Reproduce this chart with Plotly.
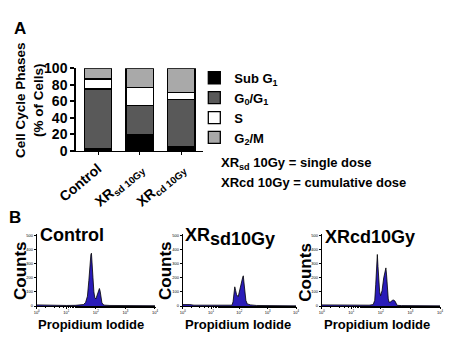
import plotly.graph_objects as go

# ---------------- Panel A data ----------------
groups = ["Control", "XR<sub>sd 10Gy</sub>", "XR<sub>cd 10Gy</sub>"]
phases = ["Sub G<sub>1</sub>", "G<sub>0</sub>/G<sub>1</sub>", "S", "G<sub>2</sub>/M"]
sub_g1 = [3, 20, 5]
g0_g1 = [72, 35, 57]
s_phase = [12, 22, 9]
g2_m = [13, 23, 29]
phase_colors = ["#000000", "#595959", "#ffffff", "#a9a9a9"]
y_ticks = [0, 20, 40, 60, 80, 100]

# ---------------- Panel B data (propidium iodide intensity, counts) ----------------
ctrl_pi = [1, 2, 5, 10, 20, 30, 38, 45, 52, 58, 63, 68, 71, 75, 80, 86, 92, 100, 110, 122,
           132, 140, 150, 160, 175, 200, 300, 1000, 10000]
ctrl_counts = [8, 6, 5, 4, 5, 6, 10, 25, 70, 180, 300, 365, 374, 320, 200, 100, 60, 50, 75, 115,
               124, 105, 60, 25, 10, 6, 4, 3, 2]

sd_pi = [1, 1.3, 1.8, 2.5, 5, 10, 20, 40, 55, 60, 64, 69, 74, 80, 91, 105, 120, 132, 138, 145,
         155, 170, 190, 250, 400, 1000, 10000]
sd_counts = [10, 12, 10, 6, 5, 4, 4, 4, 6, 30, 110, 136, 110, 80, 66, 110, 170, 205, 214, 170,
             100, 40, 15, 8, 4, 2, 1]

cd_pi = [1, 2, 5, 10, 20, 40, 55, 62, 67, 71, 76, 80, 85, 91, 98, 110, 125, 140, 148, 156,
         166, 178, 191, 215, 245, 270, 300, 330, 355, 500, 1000, 10000]
cd_counts = [8, 7, 6, 5, 5, 6, 10, 40, 150, 300, 365, 280, 170, 100, 73, 110, 200, 262, 270, 220,
             120, 50, 26, 30, 40, 42, 35, 15, 5, 3, 2, 1]

hist_titles = ["Control", "XR<sub><span style='font-size:18px'>sd10Gy</span></sub>", "XRcd10Gy"]
count_ticks = [0, 100, 200, 300, 400, 500]
pi_ticks = [1, 10, 100, 1000, 10000]
pi_ticktext = ["10<sup>0</sup>", "10<sup>1</sup>", "10<sup>2</sup>", "10<sup>3</sup>", "10<sup>4</sup>"]

FONT = "Liberation Sans, Arial, Helvetica, sans-serif"
HIST_FILL = "#2a1cb8"

fig = go.Figure()

# stacked bars
for name, vals, col in zip(phases, [sub_g1, g0_g1, s_phase, g2_m], phase_colors):
    fig.add_trace(go.Bar(
        x=groups, y=vals, name=name, marker=dict(color=col, line=dict(color="#000000", width=1.3)),
        width=0.66, xaxis="x", yaxis="y", showlegend=True,
    ))

# histograms
hist_data = [(ctrl_pi, ctrl_counts), (sd_pi, sd_counts), (cd_pi, cd_counts)]
for i, (xs, ys) in enumerate(hist_data):
    ax = str(i + 2)
    fig.add_trace(go.Scatter(
        x=xs, y=ys, mode="lines", fill="tozeroy", fillcolor=HIST_FILL,
        line=dict(color="#000000", width=0.8), xaxis="x" + ax, yaxis="y" + ax, showlegend=False,
    ))

bold = dict(family=FONT, color="#000000", weight="bold")

layout = dict(
    width=454, height=345, margin=dict(l=0, r=0, t=0, b=0, pad=0, autoexpand=False),
    paper_bgcolor="#ffffff", plot_bgcolor="#ffffff",
    barmode="stack", bargap=0.34,
    font=dict(family=FONT, color="#000000"),
    xaxis=dict(domain=[0.1674, 0.4471], range=[-0.53, 2.52], showline=True, linecolor="#000000",
               linewidth=1.3, ticks="outside", ticklen=3, tickwidth=1, tickcolor="#000000",
               tickangle=-40, tickfont=dict(size=14, **bold), showgrid=False, zeroline=False,
               automargin=False),
    yaxis=dict(domain=[0.5623, 0.802], range=[0, 100], tickvals=y_ticks, showline=True,
               linecolor="#000000", linewidth=1.5, ticks="outside", ticklen=4, tickwidth=1.5,
               tickcolor="#000000", tickfont=dict(size=14, **bold), showgrid=False, zeroline=False,
               automargin=False),
    legend=dict(x=0.428, y=0.818, xanchor="left", yanchor="top", traceorder="normal",
                font=dict(size=13, **bold), bgcolor="rgba(0,0,0,0)", tracegroupgap=0),
)

hist_x_domains = [[0.0808, 0.3414], [0.4024, 0.652], [0.7086, 0.9692]]
for i, dom in enumerate(hist_x_domains):
    ax = str(i + 2)
    layout["xaxis" + ax] = dict(
        domain=dom, type="log", range=[0, 4], tickvals=pi_ticks, ticktext=pi_ticktext,
        showline=True, linecolor="#000000", linewidth=1, ticks="outside", ticklen=2, tickwidth=0.8,
        tickcolor="#000000", tickfont=dict(size=4, family=FONT, color="#000000"), showgrid=False,
        zeroline=False, anchor="y" + ax, automargin=False,
        minor=dict(ticks="outside", ticklen=1, tickwidth=0.5, tickcolor="#000000", showgrid=False),
    )
    layout["yaxis" + ax] = dict(
        domain=[0.113, 0.3217], range=[0, 510], tickvals=count_ticks, showline=True,
        linecolor="#000000", linewidth=1, ticks="outside", ticklen=2, tickwidth=0.8,
        tickcolor="#000000", tickfont=dict(size=4, family=FONT, color="#000000"), showgrid=False,
        zeroline=False, anchor="x" + ax, automargin=False,
    )

annotations = [
    dict(text="A", x=0.044, y=0.9188, font=dict(size=17, **bold)),
    dict(text="B", x=0.033, y=0.371, font=dict(size=17, **bold)),
    dict(text="Cell Cycle Phases<br>(% of Cells)", x=0.064, y=0.71, textangle=-90,
         font=dict(size=13.5, **bold)),
    dict(text="XR<sub>sd</sub> 10Gy = single dose", x=0.482, y=0.5267, xanchor="left",
         font=dict(size=13, **bold)),
    dict(text="XRcd 10Gy = cumulative dose", x=0.482, y=0.4704, xanchor="left",
         font=dict(size=13, **bold)),
]
title_pos = [(0.0837, 0.3188), (0.403, 0.312), (0.711, 0.3139)]
counts_pos = [(0.0463, 0.2145), (0.3656, 0.2174), (0.674, 0.2125)]
pi_pos = [(0.2015, 0.058), (0.5242, 0.058), (0.8293, 0.058)]
for t, (tx, ty), (cx, cy), (px, py) in zip(hist_titles, title_pos, counts_pos, pi_pos):
    annotations.append(dict(text=t, x=tx, y=ty, xanchor="left", font=dict(size=18, **bold)))
    annotations.append(dict(text="Counts", x=cx, y=cy, textangle=-90, font=dict(size=17, **bold)))
    annotations.append(dict(text="Propidium Iodide", x=px, y=py, font=dict(size=13, **bold)))

for a in annotations:
    a.update(xref="paper", yref="paper", showarrow=False)
    a.setdefault("xanchor", "center")
    a.setdefault("yanchor", "middle")
layout["annotations"] = annotations

fig.update_layout(**layout)
fig.write_html("out.html", include_plotlyjs=True, config={"displayModeBar": False},
               post_script="document.body.style.margin='0';document.body.style.padding='0';")
